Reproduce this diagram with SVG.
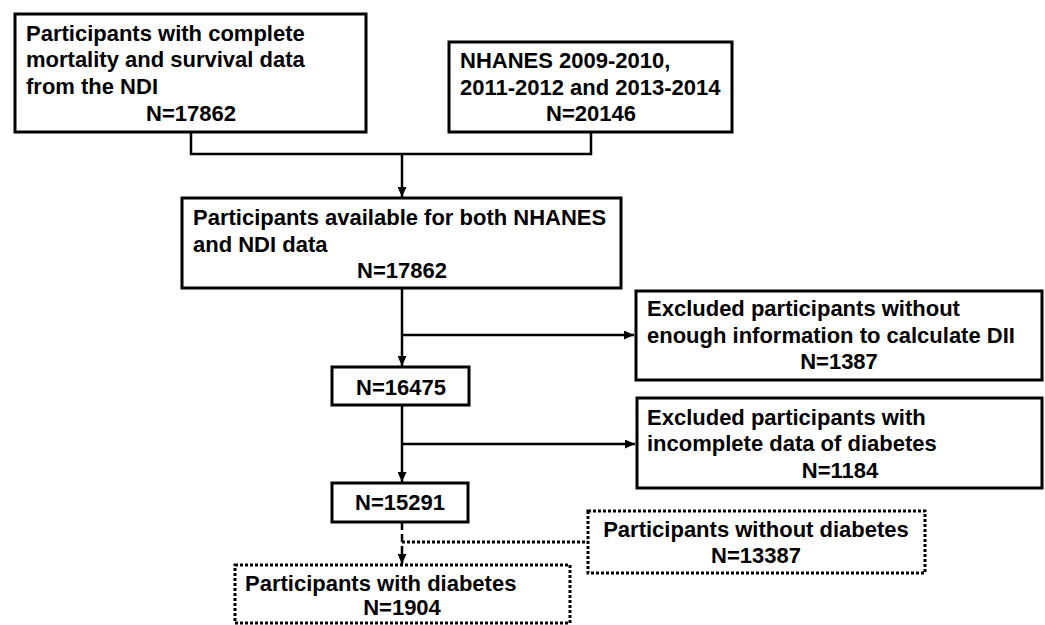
<svg xmlns="http://www.w3.org/2000/svg" width="1045" height="625" viewBox="0 0 1045 625">
<style>
  text { font-family: "Liberation Sans", Arial, sans-serif; font-weight: bold; font-size: 22px; fill: #000; }
  .mid { text-anchor: middle; }
  .box { fill: #fff; stroke: #000; stroke-width: 3; }
  .dot { fill: #fff; stroke: #000; stroke-width: 3; stroke-dasharray: 3 2; }
  .ln { fill: none; stroke: #000; stroke-width: 2.5; }
  .dln { fill: none; stroke: #000; stroke-width: 3; stroke-dasharray: 3 2; }
  .dash { fill: none; stroke: #000; stroke-width: 2.5; stroke-dasharray: 8 4; }
</style>
<defs>
  <marker id="arr" markerUnits="userSpaceOnUse" markerWidth="10" markerHeight="9" refX="10" refY="4.5" orient="auto">
    <path d="M0,0 L10,4.5 L0,9 z" fill="#000"/>
  </marker>
</defs>
<rect width="1045" height="625" fill="#fff"/>
<g id="connectors">
  <polyline class="ln" points="191,132 191,154 591,154 591,132"/>
  <line class="ln" x1="402" y1="154" x2="402" y2="197" marker-end="url(#arr)"/>
  <line class="ln" x1="402" y1="288" x2="402" y2="366" marker-end="url(#arr)"/>
  <line class="ln" x1="402" y1="335" x2="634" y2="335" marker-end="url(#arr)"/>
  <line class="ln" x1="402" y1="405" x2="402" y2="482" marker-end="url(#arr)"/>
  <line class="ln" x1="402" y1="444" x2="635" y2="444" marker-end="url(#arr)"/>
  <line class="dash" x1="402" y1="522" x2="402" y2="564" marker-end="url(#arr)"/>
  <line class="dln" x1="402" y1="542" x2="588" y2="542"/>
</g>
<g id="node-ndi">
  <rect class="box" x="15" y="14" width="351" height="118"/>
  <text x="26" y="41">Participants with complete</text>
  <text x="26" y="67">mortality and survival data</text>
  <text x="26" y="94">from the NDI</text>
  <text class="mid" x="191" y="121">N=17862</text>
</g>
<g id="node-nhanes">
  <rect class="box" x="449" y="42" width="283" height="90"/>
  <text x="460" y="68">NHANES 2009-2010,</text>
  <text x="460" y="95">2011-2012 and 2013-2014</text>
  <text class="mid" x="591" y="121">N=20146</text>
</g>
<g id="node-both">
  <rect class="box" x="182" y="198" width="439" height="90"/>
  <text x="193" y="225">Participants available for both NHANES</text>
  <text x="193" y="252">and NDI data</text>
  <text class="mid" x="402" y="278">N=17862</text>
</g>
<g id="node-excl-dii">
  <rect class="box" x="636" y="291" width="406" height="89"/>
  <text x="647" y="316">Excluded participants without</text>
  <text x="647" y="343">enough information to calculate DII</text>
  <text class="mid" x="839" y="369">N=1387</text>
</g>
<g id="node-16475">
  <rect class="box" x="332" y="367" width="137" height="38"/>
  <text class="mid" x="401" y="395">N=16475</text>
</g>
<g id="node-excl-diab">
  <rect class="box" x="637" y="398" width="405" height="90"/>
  <text x="647" y="425">Excluded participants with</text>
  <text x="647" y="451">incomplete data of diabetes</text>
  <text class="mid" x="840" y="478">N=1184</text>
</g>
<g id="node-15291">
  <rect class="box" x="332" y="483" width="136" height="39"/>
  <text class="mid" x="400" y="510">N=15291</text>
</g>
<g id="node-without">
  <rect class="dot" x="588" y="511" width="337" height="62"/>
  <text class="mid" x="756" y="537">Participants without diabetes</text>
  <text class="mid" x="756" y="563">N=13387</text>
</g>
<g id="node-with">
  <rect class="dot" x="235" y="565" width="335" height="58"/>
  <text x="245" y="591">Participants with diabetes</text>
  <text class="mid" x="402" y="615">N=1904</text>
</g>
</svg>
